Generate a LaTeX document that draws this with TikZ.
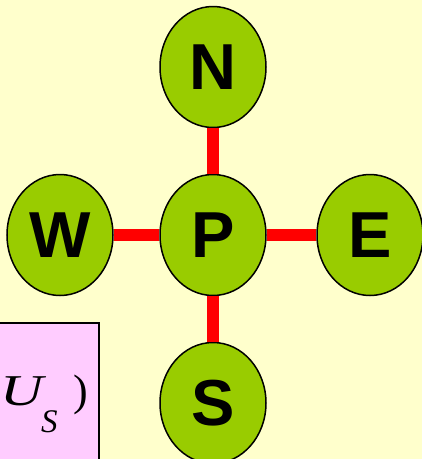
\documentclass[tikz,border=0pt]{standalone}
\usepackage{fontspec}
\setmainfont{Liberation Serif}
\setsansfont{Liberation Sans}
\usetikzlibrary{shapes.geometric}
\definecolor{bgyellow}{HTML}{FFFFCC}
\definecolor{cvgreen}{HTML}{99CC00}
\definecolor{boxpink}{HTML}{FFCCFF}
\tikzset{
  cv/.style={ellipse, draw=black, line width=1.5pt, fill=cvgreen, minimum width=106pt, minimum height=121pt, inner sep=0pt,
    font=\sffamily\bfseries\fontsize{65}{65}\selectfont},
  link/.style={draw=red, line width=12pt},
  eqtext/.style={anchor=base west, inner sep=0pt}
}
\begin{document}
\begin{tikzpicture}[x=1pt,y=-1pt]
\fill[bgyellow] (0,0) rectangle (422,459);
\useasboundingbox (0,0) rectangle (422,459);
\begin{scope}
\clip (0,0) rectangle (422,459);
\filldraw[fill=boxpink, draw=black, line width=1.5pt] (-10,323) rectangle (99,470);
\node[eqtext, font=\fontsize{44}{44}\selectfont] (u) at (0,405) {\scalebox{1.35}[1]{\textit{U}}};
\node[eqtext, font=\fontsize{33}{33}\selectfont] (s) at (41,432) {\textit{S}};
\node[eqtext, font=\fontsize{44}{44}\selectfont] (rp) at (73,405) {)};
\end{scope}
\node[cv] (N) at (213,67) {N};
\node[cv] (P) at (213,235) {P};
\node[cv] (W) at (60,235) {W};
\node[cv] (E) at (370,235) {E};
\node[cv] (S) at (213,403) {S};
\draw[link] (N) -- (P);
\draw[link] (W) -- (P);
\draw[link] (P) -- (E);
\draw[link] (P) -- (S);
\end{tikzpicture}
\end{document}
